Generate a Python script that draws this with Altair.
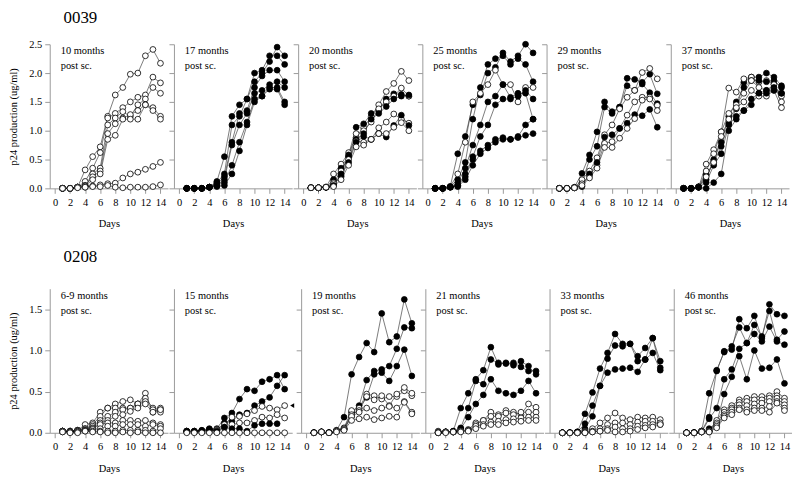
import altair as alt
import pandas as pd

FONT = "Liberation Serif"
DAYS = list(range(1, 15))
X_TICKS = [0, 2, 4, 6, 8, 10, 12, 14]
Y_TICKS_TOP = [0.0, 0.5, 1.0, 1.5, 2.0, 2.5]
Y_TICKS_BOTTOM = [0.0, 0.5, 1.0, 1.5]

# ---------------- patient 0039 ----------------
t10_labels = "10 months\npost sc."
t10_fill = [0, 0, 0, 0, 0, 0, 0]
t10_vals = [
    [0.0, 0.0, 0.02, 0.32, 0.55, 0.72, 1.25, 1.62, 1.75, 1.98, 2.0, 2.3, 2.41, 2.17],
    [0.0, 0.0, 0.02, 0.12, 0.35, 0.62, 1.22, 1.3, 1.4, 1.5, 1.58, 1.62, 1.93, 1.83],
    [0.0, 0.0, 0.02, 0.05, 0.25, 0.35, 1.1, 1.22, 1.33, 1.25, 1.45, 1.55, 1.75, 1.65],
    [0.0, 0.0, 0.02, 0.05, 0.2, 0.3, 0.95, 1.12, 1.22, 1.28, 1.35, 1.45, 1.4, 1.25],
    [0.0, 0.0, 0.02, 0.04, 0.15, 0.25, 0.85, 0.92, 1.2, 1.2, 1.2, 1.45, 1.35, 1.2],
    [0.0, 0.0, 0.02, 0.02, 0.04, 0.06, 0.08, 0.09, 0.18, 0.25, 0.28, 0.33, 0.38, 0.45],
    [0.0, 0.0, 0.01, 0.02, 0.03, 0.03, 0.05, 0.02, 0.01, 0.02, 0.02, 0.02, 0.03, 0.06],
]

t17_labels = "17 months\npost sc."
t17_fill = [1, 1, 1, 1, 1, 1]
t17_vals = [
    [0.0, 0.0, 0.0, 0.02, 0.12, 0.55, 1.25, 1.45, 1.55, 1.85, 2.0, 2.2, 2.45, 2.3],
    [0.0, 0.0, 0.0, 0.02, 0.1, 0.25, 1.1, 1.25, 1.55, 2.0, 2.05, 2.3, 2.3, 2.15],
    [0.0, 0.0, 0.0, 0.02, 0.08, 0.2, 0.8, 1.3, 1.35, 1.75, 1.95, 2.05, 2.05, 1.85],
    [0.0, 0.0, 0.0, 0.02, 0.05, 0.15, 0.75, 1.1, 1.3, 1.65, 1.7, 1.8, 1.85, 1.75],
    [0.0, 0.0, 0.0, 0.02, 0.05, 0.1, 0.4, 0.8, 1.15, 1.55, 1.6, 1.75, 1.75, 1.5],
    [0.0, 0.0, 0.0, 0.02, 0.03, 0.05, 0.25, 0.65, 1.1, 1.5, 1.6, 1.72, 1.72, 1.45],
]

t20_labels = "20 months\npost sc."
t20_fill = [0, 1, 0, 1, 0, 1, 0]
t20_vals = [
    [0.01, 0.01, 0.02, 0.25, 0.42, 0.62, 0.88, 1.05, 1.25, 1.45, 1.68, 1.82, 2.03, 1.87],
    [0.01, 0.01, 0.02, 0.15, 0.35, 0.58, 1.06, 1.12, 1.3, 1.35, 1.55, 1.64, 1.63, 1.6],
    [0.01, 0.01, 0.02, 0.1, 0.3, 0.55, 0.95, 1.0, 1.15, 1.38, 1.5, 1.6, 1.74, 1.6],
    [0.01, 0.01, 0.02, 0.06, 0.25, 0.55, 0.85, 0.95, 1.2, 1.3, 1.42, 1.55, 1.6, 1.62],
    [0.01, 0.01, 0.02, 0.08, 0.2, 0.5, 0.82, 0.8, 0.85, 1.05, 1.15, 1.29, 1.2, 1.13],
    [0.01, 0.01, 0.02, 0.05, 0.22, 0.45, 0.8, 0.9, 0.85, 0.95, 0.89, 1.09, 1.27, 1.09],
    [0.01, 0.01, 0.02, 0.03, 0.15, 0.4, 0.72, 0.75, 0.85, 0.95, 0.95, 1.06, 1.14, 1.0],
]

t25_labels = "25 months\npost sc."
t25_fill = [1, 1, 0, 1, 1, 1, 1]
t25_vals = [
    [0.0, 0.0, 0.03, 0.6, 0.9, 1.45, 1.62, 2.0, 2.1, 2.35, 2.2, 2.3, 2.5, 2.35],
    [0.0, 0.0, 0.03, 0.15, 0.45, 1.2, 1.75, 2.15, 2.25, 2.3, 2.15, 2.25, 2.15, 1.85],
    [0.0, 0.0, 0.03, 0.25, 0.8, 1.5, 1.65, 1.8, 2.05, 1.8, 1.8, 1.5, 1.75, 1.75],
    [0.0, 0.0, 0.02, 0.1, 0.35, 0.75, 1.1, 1.5, 1.6, 1.8, 1.58, 1.65, 1.65, 1.2],
    [0.0, 0.0, 0.02, 0.05, 0.25, 0.55, 0.9, 1.1, 1.45, 1.55, 1.55, 1.6, 1.7, 1.55],
    [0.0, 0.0, 0.02, 0.05, 0.2, 0.5, 0.65, 0.75, 0.85, 0.88, 0.85, 0.9, 1.1, 1.2],
    [0.0, 0.0, 0.02, 0.03, 0.15, 0.4, 0.6, 0.7, 0.8, 0.85, 0.85, 0.88, 0.92, 0.95],
]

t29_labels = "29 months\npost sc."
t29_fill = [1, 1, 0, 0, 1, 0]
t29_vals = [
    [0.0, 0.0, 0.02, 0.26, 0.58, 0.98, 1.5, 1.33, 1.41, 1.91, 1.89, 1.84, 1.98, 1.64],
    [0.0, 0.0, 0.01, 0.1, 0.5, 0.73, 1.41, 1.3, 1.41, 1.78, 1.7, 1.81, 1.66, 1.47],
    [0.0, 0.0, 0.01, 0.15, 0.3, 0.53, 0.93, 1.1, 1.38, 1.58, 1.7, 2.01, 2.08, 1.9],
    [0.0, 0.0, 0.01, 0.08, 0.22, 0.4, 0.78, 0.81, 1.04, 1.27, 1.5, 1.58, 1.58, 1.44],
    [0.0, 0.0, 0.01, 0.03, 0.25, 0.45, 0.89, 0.93, 1.04, 1.13, 1.28, 1.26, 1.37, 1.06],
    [0.0, 0.0, 0.01, 0.05, 0.18, 0.35, 0.71, 0.71, 0.87, 1.04, 1.21, 1.53, 1.55, 1.35],
]

t37_labels = "37 months\npost sc."
t37_fill = [1, 0, 1, 0, 1, 0, 1]
t37_vals = [
    [0.0, 0.0, 0.02, 0.24, 0.44, 0.73, 1.13, 1.38, 1.84, 1.93, 1.93, 2.0, 1.93, 1.78],
    [0.0, 0.0, 0.02, 0.42, 0.67, 0.98, 1.74, 1.67, 1.9, 1.93, 1.84, 1.87, 1.81, 1.6],
    [0.0, 0.0, 0.03, 0.15, 0.5, 0.8, 1.25, 1.5, 1.75, 1.87, 1.87, 1.85, 1.87, 1.75],
    [0.0, 0.0, 0.02, 0.3, 0.6, 0.98, 1.3, 1.45, 1.65, 1.87, 1.75, 1.7, 1.8, 1.5],
    [0.0, 0.0, 0.02, 0.1, 0.4, 0.6, 1.1, 1.25, 1.35, 1.55, 1.65, 1.7, 1.75, 1.65],
    [0.0, 0.0, 0.02, 0.2, 0.45, 0.9, 1.2, 1.4, 1.5, 1.7, 1.6, 1.6, 1.7, 1.4],
    [0.0, 0.0, 0.02, 0.0, 0.1, 0.25, 1.0, 1.2, 1.35, 1.45, 1.65, 1.65, 1.7, 1.65],
]

# ---------------- patient 0208 ----------------
b69_labels = "6-9 months\npost sc."
b69_fill = [0, 0, 0, 0, 0, 0, 0, 0]
b69_vals = [
    [0.02, 0.02, 0.03, 0.1, 0.12, 0.25, 0.3, 0.35, 0.38, 0.4, 0.35, 0.48, 0.25, 0.3],
    [0.02, 0.02, 0.03, 0.05, 0.1, 0.2, 0.3, 0.3, 0.3, 0.3, 0.35, 0.42, 0.3, 0.28],
    [0.02, 0.02, 0.03, 0.05, 0.08, 0.15, 0.2, 0.25, 0.28, 0.3, 0.35, 0.38, 0.28, 0.25],
    [0.02, 0.02, 0.03, 0.04, 0.06, 0.12, 0.15, 0.2, 0.22, 0.26, 0.3, 0.35, 0.25, 0.28],
    [0.02, 0.01, 0.02, 0.03, 0.05, 0.1, 0.12, 0.12, 0.15, 0.15, 0.14, 0.15, 0.12, 0.1],
    [0.02, 0.01, 0.02, 0.03, 0.04, 0.05, 0.08, 0.08, 0.1, 0.1, 0.1, 0.08, 0.1, 0.08],
    [0.01, 0.01, 0.01, 0.02, 0.02, 0.02, 0.02, 0.02, 0.03, 0.03, 0.03, 0.03, 0.02, 0.05],
    [0.01, 0.0, 0.0, 0.02, 0.01, 0.01, 0.0, 0.0, 0.01, 0.0, 0.01, 0.0, 0.0, 0.0],
]

b15_labels = "15 months\npost sc."
b15_fill = [1, 1, 0, 0, 1, 0]
b15_vals = [
    [0.02, 0.02, 0.03, 0.05, 0.05, 0.18, 0.24, 0.41, 0.53, 0.51, 0.62, 0.65, 0.7, 0.53],
    [0.02, 0.01, 0.02, 0.04, 0.03, 0.12, 0.14, 0.22, 0.24, 0.33, 0.38, 0.43, 0.57, 0.7],
    [0.02, 0.02, 0.02, 0.03, 0.04, 0.1, 0.19, 0.2, 0.23, 0.27, 0.32, 0.3, 0.28, 0.33],
    [0.01, 0.01, 0.02, 0.02, 0.03, 0.06, 0.1, 0.12, 0.12, 0.15, 0.19, 0.18, 0.22, 0.18],
    [0.02, 0.02, 0.03, 0.04, 0.02, 0.07, 0.05, 0.05, 0.02, 0.09, 0.11, 0.11, 0.11],
    [0.0, 0.0, 0.0, 0.0, 0.0, 0.0, 0.0, 0.0, 0.0, 0.0, 0.0, 0.0, 0.0, 0.0],
]
b15_marker_day = [15.0]
b15_marker_val = [0.33]

b19_labels = "19 months\npost sc."
b19_fill = [1, 1, 1, 0, 0, 0, 0]
b19_vals = [
    [0.0, 0.01, 0.0, 0.03, 0.19, 0.71, 0.92, 1.09, 0.98, 1.45, 1.1, 1.17, 1.62, 1.33],
    [0.0, 0.01, 0.0, 0.02, 0.05, 0.25, 0.33, 0.64, 0.75, 0.77, 0.81, 1.02, 1.28, 1.27],
    [0.0, 0.01, 0.0, 0.02, 0.04, 0.2, 0.3, 0.43, 0.71, 0.73, 0.63, 0.81, 1.01, 0.69],
    [0.0, 0.01, 0.0, 0.03, 0.06, 0.27, 0.3, 0.47, 0.45, 0.41, 0.44, 0.44, 0.51, 0.45],
    [0.0, 0.01, 0.0, 0.02, 0.05, 0.22, 0.27, 0.44, 0.4, 0.45, 0.33, 0.47, 0.55, 0.48],
    [0.0, 0.01, 0.0, 0.02, 0.04, 0.2, 0.25, 0.3, 0.27, 0.3, 0.32, 0.3, 0.38, 0.25],
    [0.0, 0.01, 0.0, 0.01, 0.03, 0.15, 0.17, 0.19, 0.16, 0.18, 0.2, 0.19, 0.37, 0.23],
]

b21_labels = "21 months\npost sc."
b21_fill = [1, 1, 1, 0, 0, 0, 0]
b21_vals = [
    [0.0, 0.01, 0.02, 0.3, 0.48, 0.65, 0.76, 1.04, 0.83, 0.85, 0.82, 0.87, 0.81, 0.71],
    [0.0, 0.01, 0.02, 0.06, 0.3, 0.63, 0.59, 0.89, 0.85, 0.84, 0.85, 0.8, 0.75, 0.75],
    [0.0, 0.01, 0.01, 0.05, 0.19, 0.35, 0.46, 0.65, 0.51, 0.48, 0.46, 0.51, 0.63, 0.48],
    [0.02, 0.01, 0.01, 0.02, 0.04, 0.12, 0.15, 0.25, 0.22, 0.27, 0.25, 0.22, 0.35, 0.31],
    [0.01, 0.01, 0.01, 0.02, 0.03, 0.1, 0.15, 0.2, 0.2, 0.24, 0.22, 0.25, 0.25, 0.25],
    [0.0, 0.01, 0.01, 0.02, 0.03, 0.08, 0.1, 0.13, 0.14, 0.16, 0.17, 0.18, 0.19, 0.19],
    [0.0, 0.0, 0.01, 0.01, 0.02, 0.05, 0.08, 0.1, 0.1, 0.12, 0.13, 0.14, 0.15, 0.15],
]

b33_labels = "33 months\npost sc."
b33_fill = [1, 1, 1, 0, 0, 0, 0]
b33_vals = [
    [0.0, 0.0, 0.01, 0.23, 0.49, 0.78, 0.97, 1.2, 1.08, 1.08, 0.93, 1.03, 1.15, 0.87],
    [0.0, 0.0, 0.01, 0.11, 0.33, 0.57, 0.9, 1.06, 1.05, 1.08, 0.87, 0.89, 1.15, 0.79],
    [0.0, 0.0, 0.01, 0.05, 0.2, 0.57, 0.73, 0.77, 0.78, 0.79, 0.74, 0.89, 0.97, 0.76],
    [0.0, 0.0, 0.0, 0.02, 0.05, 0.12, 0.18, 0.24, 0.18, 0.16, 0.19, 0.18, 0.19, 0.16],
    [0.0, 0.0, 0.0, 0.01, 0.02, 0.05, 0.1, 0.12, 0.12, 0.1, 0.13, 0.14, 0.14, 0.1],
    [0.0, 0.0, 0.0, 0.0, 0.01, 0.02, 0.05, 0.07, 0.05, 0.05, 0.08, 0.09, 0.1, 0.12],
    [0.0, 0.0, 0.0, 0.0, 0.01, 0.02, 0.03, 0.01, 0.01, 0.02, 0.04, 0.06, 0.07, 0.1],
]

b46_labels = "46 months\npost sc."
b46_fill = [1, 1, 1, 1, 0, 0, 0, 0, 0]
b46_vals = [
    [0.0, 0.0, 0.02, 0.48, 0.75, 0.99, 1.01, 1.38, 1.27, 1.42, 1.15, 1.56, 1.44, 1.42],
    [0.0, 0.0, 0.02, 0.19, 0.76, 0.98, 1.05, 1.28, 1.09, 1.31, 1.17, 1.48, 1.13, 1.23],
    [0.0, 0.0, 0.01, 0.17, 0.3, 0.65, 0.77, 1.02, 1.09, 1.2, 1.11, 1.29, 1.11, 1.07],
    [0.0, 0.0, 0.01, 0.05, 0.12, 0.47, 0.68, 0.93, 0.65, 1.0, 0.78, 0.79, 0.89, 0.6],
    [0.0, 0.0, 0.02, 0.02, 0.15, 0.28, 0.33, 0.4, 0.42, 0.44, 0.44, 0.45, 0.5, 0.42],
    [0.0, 0.0, 0.02, 0.02, 0.12, 0.25, 0.3, 0.37, 0.38, 0.4, 0.4, 0.42, 0.45, 0.38],
    [0.0, 0.0, 0.01, 0.02, 0.1, 0.22, 0.28, 0.34, 0.33, 0.35, 0.36, 0.38, 0.42, 0.34],
    [0.0, 0.0, 0.01, 0.01, 0.08, 0.2, 0.25, 0.3, 0.28, 0.3, 0.3, 0.32, 0.38, 0.3],
    [0.0, 0.0, 0.01, 0.01, 0.06, 0.18, 0.22, 0.28, 0.25, 0.27, 0.27, 0.25, 0.36, 0.27],
]

PANEL_W = 119
PANEL_H = 145
X_DOMAIN = [-0.7, 15.0]
AXIS_GREY = "#9a9a9a"


def panel(vals, fills, label, ymax, yticks, first, marker=None):
    rows = []
    for i, (series, f) in enumerate(zip(vals, fills)):
        for d, v in zip(DAYS, series):
            rows.append({"s": i, "day": d, "v": v, "f": f})
    df = pd.DataFrame(rows)

    x_axis = alt.Axis(values=X_TICKS, title="Days", grid=False, domainColor=AXIS_GREY,
                      tickColor=AXIS_GREY, tickSize=5, labelFont=FONT, labelFontSize=10.5,
                      labelColor="black", labelPadding=4, titleFont=FONT, titleFontSize=10.5,
                      titleFontWeight="normal", titleColor="black", titlePadding=11,
                      labelFlush=False, labelOverlap=False, labelSeparation=0)
    if first:
        y_axis = alt.Axis(values=yticks, format=".1f", title="p24 production (ug/ml)", grid=False,
                          domainColor=AXIS_GREY, tickColor=AXIS_GREY, tickSize=5,
                          labelFont=FONT, labelFontSize=10.5, labelColor="black", labelPadding=3,
                          titleFont=FONT, titleFontSize=10.5, titleFontWeight="normal",
                          titleColor="black", titlePadding=10, labelFlush=False,
                          labelOverlap=False, labelSeparation=0)
    else:
        y_axis = alt.Axis(values=yticks, labels=False, title=None, grid=False,
                          domainColor=AXIS_GREY, tickColor=AXIS_GREY, tickSize=5)

    x = alt.X("day:Q", scale=alt.Scale(domain=X_DOMAIN, nice=False, zero=False), axis=x_axis)
    y = alt.Y("v:Q", scale=alt.Scale(domain=[0, ymax], nice=False), axis=y_axis)

    base = alt.Chart(df)
    lines = base.mark_line(color="#444444", strokeWidth=0.7).encode(
        x=x, y=y, detail="s:N", order="day:Q")
    pts = base.mark_point(shape="circle", filled=True, size=34, stroke="black",
                          strokeWidth=0.8, opacity=1).encode(
        x=x, y=y,
        fill=alt.condition("datum.f == 1", alt.value("black"), alt.value("white")))
    txt = alt.Chart(pd.DataFrame({"t": [label]})).mark_text(
        align="left", baseline="top", font=FONT, fontSize=10.5, lineBreak="\n",
        lineHeight=15, color="black").encode(x=alt.value(11), y=alt.value(2), text="t:N")
    layers = [lines, pts, txt]
    if marker is not None:
        mdf = pd.DataFrame({"day": marker[0], "v": marker[1]})
        layers.append(alt.Chart(mdf).mark_point(shape="triangle-left", filled=True,
                                                color="black", size=22, opacity=1).encode(
            x=x, y=y))
    return alt.layer(*layers).properties(width=PANEL_W, height=PANEL_H)


top_panels = [
    panel(t10_vals, t10_fill, t10_labels, 2.5, Y_TICKS_TOP, True),
    panel(t17_vals, t17_fill, t17_labels, 2.5, Y_TICKS_TOP, False),
    panel(t20_vals, t20_fill, t20_labels, 2.5, Y_TICKS_TOP, False),
    panel(t25_vals, t25_fill, t25_labels, 2.5, Y_TICKS_TOP, False),
    panel(t29_vals, t29_fill, t29_labels, 2.5, Y_TICKS_TOP, False),
    panel(t37_vals, t37_fill, t37_labels, 2.5, Y_TICKS_TOP, False),
]
bottom_panels = [
    panel(b69_vals, b69_fill, b69_labels, 1.75, Y_TICKS_BOTTOM, True),
    panel(b15_vals, b15_fill, b15_labels, 1.75, Y_TICKS_BOTTOM, False,
          marker=(b15_marker_day, b15_marker_val)),
    panel(b19_vals, b19_fill, b19_labels, 1.75, Y_TICKS_BOTTOM, False),
    panel(b21_vals, b21_fill, b21_labels, 1.75, Y_TICKS_BOTTOM, False),
    panel(b33_vals, b33_fill, b33_labels, 1.75, Y_TICKS_BOTTOM, False),
    panel(b46_vals, b46_fill, b46_labels, 1.75, Y_TICKS_BOTTOM, False),
]


def row_title(text, offset):
    return alt.TitleParams(text, anchor="start", dx=55, fontSize=17, font=FONT,
                           fontWeight="normal", color="black", offset=offset)


row1 = alt.hconcat(*top_panels, spacing=0).properties(title=row_title("0039", 12))
row2 = alt.hconcat(*bottom_panels, spacing=0).properties(title=row_title("0208", 23))

chart = alt.vconcat(row1, row2, spacing=19).resolve_scale(
    x="independent", y="independent"
).properties(padding=0).configure_view(stroke=None).configure_axis(
    labelOverlap=False, labelSeparation=0
)

chart.save("out.html", embed_options={"renderer": "svg", "actions": False})
